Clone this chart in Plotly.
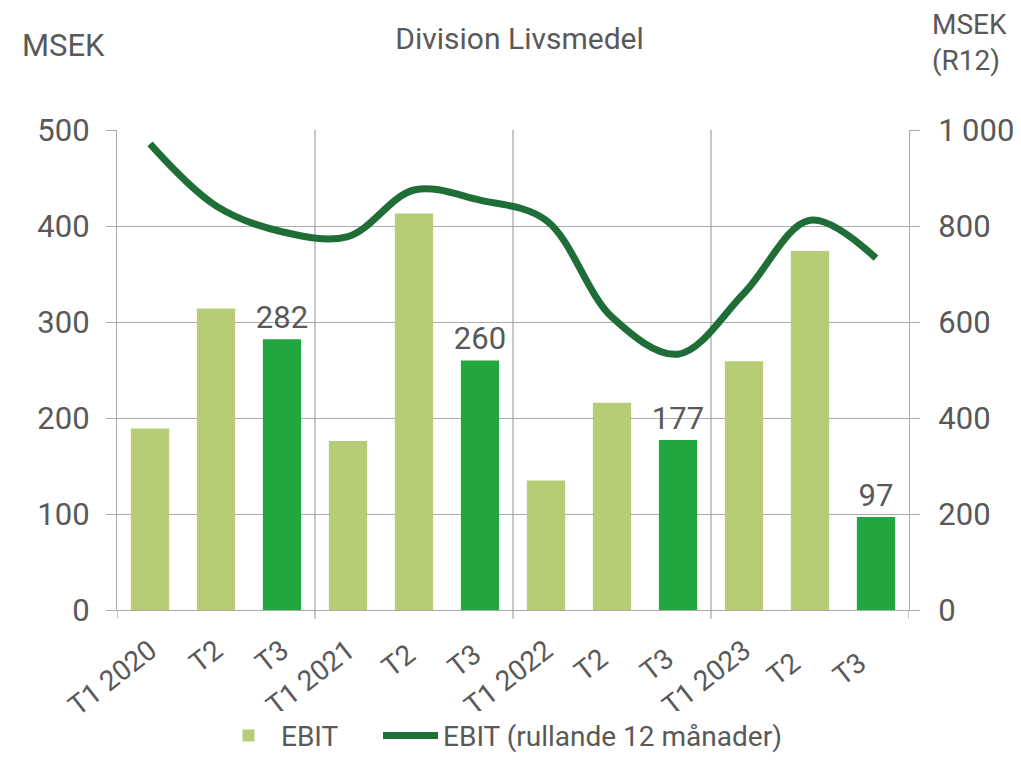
import plotly.graph_objects as go

categories = ["T1 2020", "T2", "T3", "T1 2021", "T2 ", "T3 ", "T1 2022", "T2  ", "T3  ", "T1 2023", "T2   ", "T3   "]
ebit = [189, 314, 282, 176, 413, 260, 135, 216, 177, 259, 374, 97]
ebit_r12 = [971, 842, 788, 778, 875, 854, 812, 610, 533, 660, 812, 733]
bar_labels = ["", "", "282", "", "", "260", "", "", "177", "", "", "97"]
bar_colors = ["#B6CD76", "#B6CD76", "#22A63F"] * 4
left_ticks = [0, 100, 200, 300, 400, 500]
right_ticks = [0, 200, 400, 600, 800, 1000]
right_ticktext = ["0", "200", "400", "600", "800", "1\u2009000"]

FONT = "Roboto, sans-serif"
GREY = "#595959"
GRID = "#ABABAB"

fig = go.Figure()
fig.add_trace(go.Bar(
    x=list(range(12)), y=ebit, name="EBIT" + "\u00a0" * 5,
    marker=dict(color=bar_colors, line=dict(width=0)),
    text=bar_labels, textposition="outside", cliponaxis=False, constraintext="none",
    textfont=dict(size=31, color=GREY, family=FONT),
    width=0.58,
))
fig.add_trace(go.Scatter(
    x=list(range(12)), y=ebit_r12, name="EBIT (rullande 12 månader)",
    mode="lines", yaxis="y2",
    line=dict(color="#1F6E37", width=7, shape="spline", smoothing=1),
))

shapes = []
for b in [2.5, 5.5, 8.5]:
    shapes.append(dict(type="line", xref="x", yref="paper", x0=b, x1=b, y0=-0.018, y1=1,
                       line=dict(color=GRID, width=1.3), layer="below"))
for b in [-0.5, 11.5]:
    shapes.append(dict(type="line", xref="x", yref="paper", x0=b, x1=b, y0=-0.018, y1=0,
                       line=dict(color=GRID, width=1.3), layer="below"))

fig.update_layout(
    width=1005, height=751,
    paper_bgcolor="white", plot_bgcolor="white",
    margin=dict(l=109, r=104, t=122, b=149, autoexpand=False),
    font=dict(family=FONT, color=GREY, size=26),
    separators=", ",
    bargap=0.42,
    showlegend=True,
    legend=dict(orientation="h", x=0.125, xanchor="left", y=-0.262, yanchor="middle",
                font=dict(size=28, color=GREY, family=FONT), traceorder="normal", itemwidth=55),
    title=dict(text="Division Livsmedel", x=0.509, xanchor="center", y=0.96, yanchor="middle",
               font=dict(size=30, color=GREY, family=FONT)),
    xaxis=dict(
        tickmode="array", tickvals=list(range(12)), ticktext=categories,
        range=[-0.5, 11.5], tickangle=-38, showgrid=False, ticks="",
        tickfont=dict(size=28, color=GREY, family=FONT), ticklabelstandoff=12,
        showline=True, linecolor=GRID, linewidth=1.3, zeroline=False,
    ),
    yaxis=dict(
        range=[0, 500], tickvals=left_ticks,
        showgrid=True, gridcolor=GRID, gridwidth=1.3, zeroline=False,
        tickfont=dict(size=31, color=GREY, family=FONT),
        ticks="outside", ticklen=10, tickcolor=GRID, tickwidth=1.3, ticklabelstandoff=10,
        showline=True, linecolor=GRID, linewidth=1.3,
    ),
    yaxis2=dict(
        range=[0, 1000], tickvals=right_ticks, ticktext=right_ticktext,
        overlaying="y", side="right", showgrid=False, zeroline=False,
        tickfont=dict(size=31, color=GREY, family=FONT),
        ticks="outside", ticklen=10, tickcolor=GRID, tickwidth=1.3, ticklabelstandoff=12,
        showline=True, linecolor=GRID, linewidth=1.3,
    ),
    shapes=shapes,
    annotations=[
        dict(text="MSEK", xref="paper", yref="paper", x=-0.1225, y=1.177, xanchor="left", yanchor="middle",
             showarrow=False, font=dict(size=31, color=GREY, family=FONT)),
        dict(text="MSEK<br>(R12)", xref="paper", yref="paper", x=1.027, y=1.183, xanchor="left", yanchor="middle",
             showarrow=False, align="left", font=dict(size=28, color=GREY, family=FONT)),
    ],
)

fig.write_html("out.html")
